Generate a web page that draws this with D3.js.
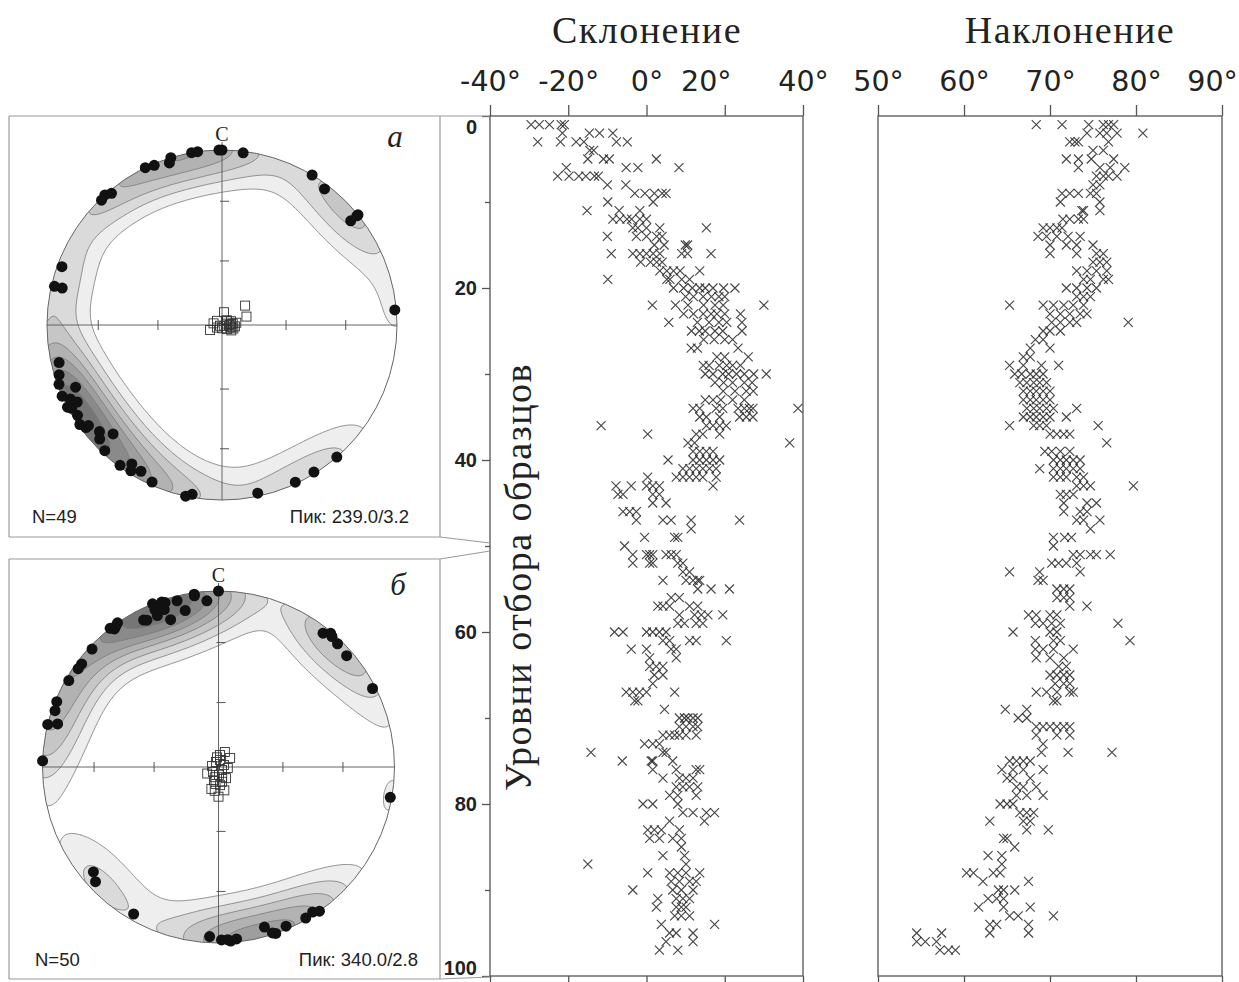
<!DOCTYPE html>
<html><head><meta charset="utf-8">
<script src="https://cdn.jsdelivr.net/npm/d3@7"></script>
<style>body{margin:0;background:#fff}svg{display:block}</style>
</head><body>
<svg id="chart" width="1239" height="982"></svg>
<script>
// ---------------- DATA ----------------
const declTicks = [-40, -20, 0, 20, 40];
const inclTicks = [50, 60, 70, 80, 90];
const depthTicks = [0, 20, 40, 60, 80, 100];
const depthMinorTicks = [10, 30, 50, 70, 90];
const titles = ["Склонение", "Наклонение"];
const yTitle = "Уровни отбора образцов";

// declination per sampling level: [level, [values in degrees]]
const declination = [
[1,[-29.5,-27.4,-24.8,-21.8,-21]],[2,[-21.5,-14.6,-12,-8.6]],[3,[-27.8,-22,-18,-16,-7.7,-4.9]],[4,[-14.5,-13.5]],
[5,[-15,-11,-9.5,2.5]],[6,[-20.5,-5.2,-2.2,8.3]],[7,[-22.7,-19.8,-17.3,-15.5,-13.3,-12.3]],[8,[-10,-5.3]],
[9,[-3,-0.4,2,4,5]],[10,[-9.9,1.7]],[11,[-15.2,-7,-1.7]],[12,[-8.6,-6.8,-5,-3.8,-1.7,0]],
[13,[-3.5,-2.2,0,3.4,15.3]],[14,[-10,-2.6,0,2.6,4]],[15,[2,4.5,9.9,10.5]],[16,[-9,-3.5,-1.7,0,1.7,3.4,9,10.5,16.5]],
[17,[-1.5,1,2.6,4]],[18,[3.4,5.2,6.9,8.6,13.6]],[19,[-9.9,5.2,6,9,11]],[20,[6.9,9.5,11.7,13.6,15,17,19.7,22.6]],
[21,[10,12,14.5,16.6,18.5,20]],[22,[1.5,7.4,10.6,14.6,17.5,19.6,30]],[23,[9.5,12,14.5,16.5,18,20,24]],[24,[5.7,13,16,18.5,20.5,24.4]],
[25,[11.5,13.5,15,17.5,19.5,24.4]],[26,[14.6,17.3,20,22]],[27,[11.4,13,23.4]],[28,[18,20,26]],
[29,[14.5,16,18.6,20.5,22,24]],[30,[15,17,19.5,21,23,25,27.4,30.6]],[31,[17.5,19.7,22,25,27]],[32,[19.6,22.6,25.5,27.3]],
[33,[15,17,19,22,25]],[34,[11.9,13.6,17.8,19.5,23.4,25,26.3,27.2,38.7]],[35,[13.6,15.3,18.7,23.8,25.5,27.2]],[36,[-11.6,15.3,17,18.7,20.4]],
[37,[0.3,12.7,14.4,18.7]],[38,[10.6,12.3,36.6]],[39,[11.9,13.6,15.3,17]],[40,[5.5,11.9,13.6,15.3,17,18.7]],
[41,[9.3,11,12.7,14.4,16.1,17.8]],[42,[0.3,7.6,9.3,11,12.7,14.4,17.8]],[43,[-7.8,-3.9,0,1.6,3.3,17]],[44,[-7.3,-6,1.6,3.3]],
[45,[1.6,5]],[46,[-6,-4.3,-2.6]],[47,[-2.6,4.2,6.3,11.4,23.8]],[48,[11.4]],
[49,[-0.5,7.2,8]],[50,[-5.6]],[51,[-3.5,0,0.8,1.6,5,6.3,7.6]],[52,[-3.5,0.8,1.6,8,9.3]],
[53,[9.3,11]],[54,[4.2,10.1,11.9,13.1,13.6]],[55,[13.1,16.5,21.2]],[56,[6.3,8.4]],
[57,[2.9,4.2,5.9,11,13.1]],[58,[8.4,12.3,14,15.7,19.5]],[59,[8,9.7,12.7,14.4]],[60,[-8.2,-6,0,1.6,3.3,5]],
[61,[4.2,5.9,11,12.7,20.4]],[62,[-3.9,0,6.3,7.6]],[63,[0.8,7.6]],[64,[0.8,2.5,4.2]],
[65,[2,4.2]],[66,[1.6]],[67,[-5.2,-3.5,-1.8,0,7.2]],[68,[-3,-2.2]],
[69,[4.6]],[70,[8.4,9.7,10.6,11.9,13.1]],[71,[8.4,10.1,11.9,13.1]],[72,[4.2,5.9,7.2,8.4,10.1,12.7]],
[73,[-0.5,1.6,3.3]],[74,[-14.2,4.2,5]],[75,[-6.2,1.2,1.6,6.7]],[76,[1.6,7.6,12.7,13.6]],
[77,[4.2,8.4,10.1,11.9]],[78,[7.6,9.3,11,13.1]],[79,[5.9,8,12.7]],[80,[-0.9,1.6,8]],
[81,[9.3,11.9,15.3,17.4]],[82,[5.9,14.8]],[83,[0.3,2,3.8,8.4]],[84,[0.8,3.3,6.7,8.9]],
[85,[8.9]],[86,[4.2,9.7]],[87,[-15,10.1]],[88,[0.3,5.9,8,10.1,13.6]],
[89,[6.3,8.4,11,12.7]],[90,[-3.5,6.7,8.9,11.9]],[91,[2.9,7.6,9.3,11]],[92,[2.5,7.6,8.9,10.1]],
[93,[7.2,8.9,11]],[94,[3.8,17.4]],[95,[5.9,7.6,11.9]],[96,[5,11.9]],[97,[3.3,8]]
];

// inclination per sampling level
const inclination = [
[1,[68.4,71.4,74.5,76.2,76.8,77.4]],[2,[74.3,75.8,76.6,77.8,80.8]],[3,[72.3,72.9,73.3,76.8]],[4,[75,76.2]],
[5,[71.9,73.3,74.8,77.4]],[6,[73.3,75.8,77,78.7]],[7,[75.4,76.2,76.8,77.8]],[8,[75,75.8]],
[9,[71.4,72.3,73.3,74.7,75.4]],[10,[71.2,75.8]],[11,[73.7,73.9,75.8]],[12,[71.5,72.3,73.3,73.9]],
[13,[69.2,70,70.8,71.4]],[14,[68.6,69.6,70.8,72.1,73.5]],[15,[70,71.9,73.1,75]],[16,[70,73.1,75.4,76.2]],
[17,[75,75.8,76.6]],[18,[73.1,74.3,75.4,76.6]],[19,[73.9,74.7,76.2,76.8]],[20,[71.9,73.1,74.3,75.4]],
[21,[73.1,73.9,74.7]],[22,[65.3,69.2,70.4,71.6,72.7,73.9]],[23,[70,71.2,72.3,73.5,74.3]],[24,[70.2,71.2,72.3,73.1,79.1]],
[25,[69.2,70,71.2]],[26,[68.3,69.2]],[27,[67.7,70]],[28,[66.9,67.7]],
[29,[65.3,66.9,69,71]],[30,[65.9,66.7,67.7,68.4,69.2]],[31,[66.5,67.3,68.1,68.8,69.6]],[32,[66.9,67.7,68.4,69.2,70]],
[33,[66.9,67.7,68.4,69.2,70]],[34,[67.3,68.1,68.8,69.6,70.4,73.1]],[35,[66.9,67.7,68.4,69.2,70,71.9]],[36,[65.3,68.1,68.8,69.6,75.6]],
[37,[70,70.8,71.6,72.3]],[38,[76.6]],[39,[69.4,70.2,71.2,72.3]],[40,[70.4,71.2,71.9,72.7,73.5]],
[41,[68.8,70.4,71.2,71.9,72.7,73.5]],[42,[70.4,71.2,71.9,73.1,73.9]],[43,[73.1,73.9,74.7,79.7]],[44,[71.2,71.9,72.7]],
[45,[71.6,74.3,75.4]],[46,[71.6,73.5,74.3]],[47,[73.1,73.9,75.8]],[48,[74.7]],
[49,[70.4,71.7,72.5]],[50,[70.4]],[51,[72.7,73.5,74.7,75.4,77]],[52,[70.2,71,71.9,73.1]],
[53,[65.3,68.8,73.5]],[54,[68.6,69.2]],[55,[70.8,71.6,72.3]],[56,[70.8,71.6,72.3]],
[57,[72.3,74.3]],[58,[67.5,68.4,70,70.8]],[59,[68.3,69.2,70.2,71.2,77.9]],[60,[65.7,70,70.8]],
[61,[68.3,70.4,71.2,79.3]],[62,[68.3,69.2,70.4,72.7]],[63,[68.4,70,71.6]],[64,[71,71.9]],
[65,[70,70.8,71.6,72.3]],[66,[70.6,71.6,72.3]],[67,[68.4,69.6,70.8,72.3,72.7]],[68,[70.4,70.8]],
[69,[64.8,67.3]],[70,[66.3,67.3]],[71,[68.4,69.2,70,70.8,71.6,72.3]],[72,[68.4,70.8,72.3]],
[73,[69.2]],[74,[69,72.1,77.2]],[75,[65.3,66.1,66.9,67.7]],[76,[64.4,65.7,66.9,69.2]],
[77,[65,65.7,67.7]],[78,[66.1,66.9,68.4]],[79,[66.1,67.3,69.2]],[80,[64.2,65,65.7]],
[81,[66.5,67.3,68.1]],[82,[63,66.9,67.7]],[83,[67.3,69.8]],[84,[64.6,65]],
[85,[65.9]],[86,[62.8,64.4]],[87,[64.4]],[88,[60.3,61.1,63.4,64.2]],
[89,[62.2,67.5]],[90,[64,64.6,65.9]],[91,[62.8,63.8,64.6]],[92,[61.7,64.6,67.7]],
[93,[65.3,66.3,70.4]],[94,[63,63.8,67.5]],[95,[54.5,57.4,63,67.5]],[96,[54.5,55.5,56.8]],[97,[57.2,58.2,59]]
];

// stereonet a: K1 axes (dots) and K3 axes (squares), [azimuth, plunge]
const netA_K1 = [
[334,0],[337,1],[343,0],[342,3],[350,0],[352,0],[359,0],[0,0],[7,1],
[318,0],[320,2],[316,1],
[31,0],[37,3],[51,0],[51,6],[51,1],
[290,3],[283,2],[283,7],
[85,1],
[257,5],[253,3],[250,1],[247,10],[246,0],[242,0],[242,7],[241,2],[235,1],[233,3],[233,5],[227,5],[225,13],[223,2],[216,1],[213,6],[209,5],[212,2],[204,2],[192,0],[190,2],
[168,2],[155,1],[148,1],[139,0],
[244,4],[238,3],[229,8]
];
const netA_K3 = [
[50,76],[71,78],[9,84],[247,84],[281,86],[310,87],[45,87],[83,86],[82,85],[96,84],[107,86],[180,88.5],
[130,87],[250,89],[67,85.5],[81,83.3],[243,87.4],[108,88.9],[107,84.5],[49,86.9],[90,86.5],[100,85.5],[75,87.5],[120,85]
];
// stereonet б
const netB_K1 = [
[0,0],[352,1],[356,6],[346,3],[348,10],[342,2],[338,0],[338,4],[341,6],[338,8],[333,7],[342,13],[325,0],[322,0],[323,2],
[313,2],[307,3],[305,3],[300,2],[292,1],[289,2],[284,0],[285,6],[272,0],
[38,4],[40,1],[44,3],[49,4],[63,2],
[100,1],
[230,8],[227,5],[210,4],
[183,4],[179,2],[177,2],[174,2],[164,6],[161,0],[157,2],[150,1],[147,2],[145,0],
[176,1],[162,1],[324,1],[341,1],[352,2],[41,2],[334,8]
];
const netB_K3 = [
[7,84.4],[52,83.2],[23,82.5],[180,76.3],[198,79.4],[175,81.6],[199,83.5],[228,86.6],[130,87.9],[333,87.4],[70,87.3],[176,86.4],
[146,83.8],[279,87],[12,86.7],[189,78.9],[96,85.7],[167,83],[351,85.5],[166,78.9],[200,85],[160,85],[240,84],[190,82]
];
const netTickPlunges = [60, 30];
// contour levels as fractions of the peak density
const contourFractions = [0.07, 0.15, 0.25, 0.37, 0.5, 0.65, 0.82];

// ---------------- DRAWING ----------------
const svg = d3.select("#chart");
const SANS = "'Liberation Sans', Arial, sans-serif";
const SERIF = "'Liberation Serif', 'Times New Roman', serif";
const DEG = "'DejaVu Sans', sans-serif";

const yDepth = d3.scaleLinear().domain([0, 100]).range([116, 976]);
const xDecl = d3.scaleLinear().domain([-40, 40]).range([490, 803]);
const xIncl = d3.scaleLinear().domain([50, 90]).range([878, 1222]);

function depthPanel(x, rows, ticks, title, titleX, labelShift) {
  const g = svg.append("g");
  const [x0, x1] = x.range();
  g.append("rect").attr("x", x0).attr("y", yDepth(0)).attr("width", x1 - x0)
    .attr("height", yDepth(100) - yDepth(0)).attr("fill", "none")
    .attr("stroke", "#555").attr("stroke-width", 1.3);
  const top = g.append("g").attr("transform", `translate(0,${yDepth(0)})`)
    .call(d3.axisTop(x).tickValues(ticks).tickSize(11).tickSizeOuter(0).tickPadding(14).tickFormat(d => d + "°"));
  top.select(".domain").remove();
  top.selectAll(".tick line").attr("stroke", "#555").attr("stroke-width", 1.3);
  top.selectAll(".tick text").attr("font-family", DEG).attr("font-size", 28.5).attr("fill", "#222")
    .attr("dx", d => labelShift[d] || 0);
  const bot = g.append("g").attr("transform", `translate(0,${yDepth(100)})`)
    .call(d3.axisBottom(x).tickValues(ticks).tickSize(11).tickSizeOuter(0).tickFormat(""));
  bot.select(".domain").remove();
  bot.selectAll(".tick line").attr("stroke", "#555").attr("stroke-width", 1.3);

  g.append("text").attr("x", titleX).attr("y", 43).attr("text-anchor", "middle")
    .attr("font-family", SERIF).attr("font-size", 38).attr("letter-spacing", 1.5).attr("fill", "#222").text(title);

  const pts = rows.flatMap(([lvl, vals]) => vals.map(v => ({ lvl, v })));
  g.append("g").selectAll("path").data(pts).join("path")
    .attr("d", "M-4.5,-4.5L4.5,4.5M-4.5,4.5L4.5,-4.5")
    .attr("transform", d => `translate(${x(d.v)},${yDepth(d.lvl)})`)
    .attr("fill", "none").attr("stroke", "#262626").attr("stroke-width", 1.15).attr("opacity", 0.85);
}

depthPanel(xDecl, declination, declTicks, titles[0], 647, { 20: -19 });
depthPanel(xIncl, inclination, inclTicks, titles[1], 1070, { 90: -10 });

// depth axis
const ya = svg.append("g").attr("transform", `translate(${xDecl(-40)},0)`)
  .call(d3.axisLeft(yDepth).tickValues(depthTicks).tickSize(8).tickSizeOuter(0).tickPadding(5));
ya.select(".domain").remove();
ya.selectAll(".tick line").attr("stroke", "#555").attr("stroke-width", 1.3);
ya.selectAll(".tick text").attr("font-family", SANS).attr("font-weight", "bold").attr("font-size", 20).attr("fill", "#222")
  .attr("y", d => d === 0 ? 11 : d === 100 ? -8 : 0);
const ym = svg.append("g").attr("transform", `translate(${xDecl(-40)},0)`)
  .call(d3.axisLeft(yDepth).tickValues(depthMinorTicks).tickSize(5).tickFormat(""));
ym.select(".domain").remove();
ym.selectAll(".tick line").attr("stroke", "#555").attr("stroke-width", 1.3);

svg.append("text").attr("transform", `translate(518,577) rotate(-90)`).attr("text-anchor", "middle")
  .attr("dominant-baseline", "central").attr("font-family", SERIF).attr("font-size", 38).attr("letter-spacing", 1.5)
  .attr("fill", "#222").text(yTitle);

// connectors between nets and depth axis
const conn = [[[9,116],[440,116],[490,116]], [[440,116],[440,537]], [[9,537],[440,537],[490,543]],
  [[9,559],[440,559],[490,551]], [[440,559],[440,979]], [[9,979],[440,979],[490,977]], [[9,116],[9,537]], [[9,559],[9,979]]];
svg.append("g").selectAll("path").data(conn).join("path").attr("d", d3.line())
  .attr("fill", "none").attr("stroke", "#9a9a9a").attr("stroke-width", 1.2);

// ---------------- STEREONETS ----------------
const grays = ["#eeeeee", "#dadada", "#c6c6c6", "#b2b2b2", "#9e9e9e", "#8a8a8a", "#767676"];
const rad = Math.PI / 180;
const vec = (az, pl) => [Math.cos(pl * rad) * Math.sin(az * rad), Math.cos(pl * rad) * Math.cos(az * rad), Math.sin(pl * rad)];

function drawNet(cfg, idx) {
  const { cx, cy, R, k1, k3 } = cfg;
  const g = svg.append("g");
  const proj = d3.geoAzimuthalEqualArea().rotate([0, -90]).scale(R / Math.SQRT2).translate([cx, cy]);
  const P = (az, pl) => proj([180 - az, pl]);

  // point density on the sphere (exponential kernel)
  const K = 20;
  const V = k1.map(d => vec(d[0], d[1]));
  const n = 150, ext = 1.15 * R, cell = 2 * ext / n;
  const vals = new Float64Array(n * n);
  for (let j = 0; j < n; j++) for (let i = 0; i < n; i++) {
    const ll = proj.invert([cx - ext + (i + 0.5) * cell, cy - ext + (j + 0.5) * cell]);
    if (!ll || !isFinite(ll[0]) || !isFinite(ll[1])) continue;
    const v = vec(180 - ll[0], ll[1]);
    let s = 0;
    for (const p of V) s += Math.exp(K * (v[0] * p[0] + v[1] * p[1] + v[2] * p[2] - 1));
    vals[j * n + i] = s;
  }
  const peak = d3.max(vals);
  const cs = d3.contours().size([n, n]).thresholds(contourFractions.map(f => f * peak))(vals);
  const path = d3.geoPath(d3.geoIdentity().scale(cell).translate([cx - ext, cy - ext]));
  const clipId = "clip" + idx;
  g.append("clipPath").attr("id", clipId).append("circle").attr("cx", cx).attr("cy", cy).attr("r", R);
  g.append("g").attr("clip-path", `url(#${clipId})`).selectAll("path").data(cs).join("path")
    .attr("d", path).attr("fill", (d, i) => grays[i]).attr("stroke", "#7a7a7a").attr("stroke-width", 0.8);

  g.append("circle").attr("cx", cx).attr("cy", cy).attr("r", R).attr("fill", "none").attr("stroke", "#666").attr("stroke-width", 1);
  g.append("line").attr("x1", cx).attr("x2", cx).attr("y1", cy - R - 8).attr("y2", cy + R).attr("stroke", "#555").attr("stroke-width", 0.9);
  g.append("line").attr("x1", cx - R).attr("x2", cx + R).attr("y1", cy).attr("y2", cy).attr("stroke", "#555").attr("stroke-width", 0.9);
  netTickPlunges.forEach(pl => {
    [90, 270].forEach(az => { const [x, y] = P(az, pl);
      g.append("line").attr("x1", x).attr("x2", x).attr("y1", y - 5).attr("y2", y + 5).attr("stroke", "#555"); });
    [0, 180].forEach(az => { const [x, y] = P(az, pl);
      g.append("line").attr("x1", x - 2).attr("x2", x + 7).attr("y1", y).attr("y2", y).attr("stroke", "#555"); });
  });
  g.append("g").selectAll("circle").data(k1).join("circle")
    .attr("cx", d => P(d[0], d[1])[0]).attr("cy", d => P(d[0], d[1])[1]).attr("r", 5.5).attr("fill", "#111");
  g.append("g").selectAll("rect").data(k3).join("rect")
    .attr("x", d => P(d[0], d[1])[0] - 4.5).attr("y", d => P(d[0], d[1])[1] - 4.5).attr("width", 9).attr("height", 9)
    .attr("fill", "none").attr("stroke", "#333").attr("stroke-width", 0.9);

  g.append("text").attr("x", cx).attr("y", cy - R - 9).attr("text-anchor", "middle")
    .attr("font-family", SERIF).attr("font-size", 20).attr("fill", "#222").text("С");
  g.append("text").attr("x", cfg.letterX).attr("y", cfg.letterY).attr("text-anchor", "middle")
    .attr("font-family", SERIF).attr("font-style", "italic").attr("font-size", 31).attr("fill", "#222").text(cfg.letter);
  g.append("text").attr("x", cfg.nX).attr("y", cfg.infoY).attr("font-family", SANS).attr("font-size", 18.5).attr("fill", "#222").text(cfg.nText);
  g.append("text").attr("x", cfg.peakX).attr("y", cfg.infoY).attr("text-anchor", "end").attr("font-family", SANS).attr("font-size", 18.5).attr("fill", "#222").text(cfg.peakText);
}

drawNet({ cx: 222, cy: 325, R: 175, k1: netA_K1, k3: netA_K3,
  letter: "а", letterX: 395, letterY: 147, nText: "N=49", peakText: "Пик: 239.0/3.2", nX: 32, peakX: 409, infoY: 523 }, 0);
drawNet({ cx: 218.5, cy: 767, R: 176, k1: netB_K1, k3: netB_K3,
  letter: "б", letterX: 398, letterY: 595, nText: "N=50", peakText: "Пик: 340.0/2.8", nX: 35, peakX: 418, infoY: 966 }, 1);
</script>
</body></html>
